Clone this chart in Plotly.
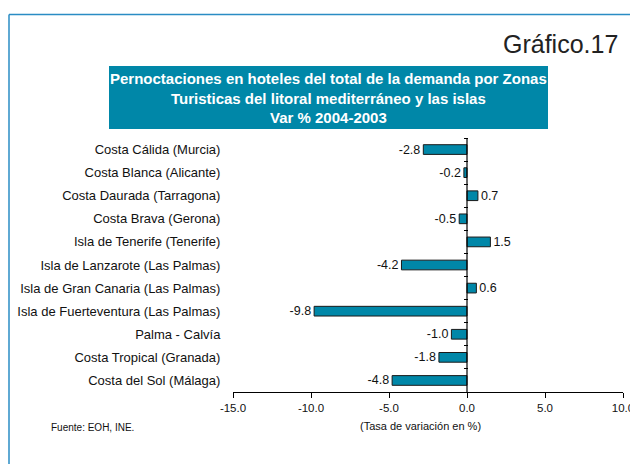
import plotly.graph_objects as go

categories = [
    "Costa Cálida (Murcia)",
    "Costa Blanca (Alicante)",
    "Costa Daurada (Tarragona)",
    "Costa Brava (Gerona)",
    "Isla de Tenerife (Tenerife)",
    "Isla de Lanzarote (Las Palmas)",
    "Isla de Gran Canaria (Las Palmas)",
    "Isla de Fuerteventura (Las Palmas)",
    "Palma - Calvía",
    "Costa Tropical (Granada)",
    "Costa del Sol (Málaga)",
]
values = [-2.8, -0.2, 0.7, -0.5, 1.5, -4.2, 0.6, -9.8, -1.0, -1.8, -4.8]
x_ticks = [-15, -10, -5, 0, 5, 10]
x_ticklabels = ["-15.0", "-10.0", "-5.0", "0.0", "5.0", "10.0"]

FONT = "Arial, Liberation Sans, Helvetica, sans-serif"
idx = list(range(len(categories)))

fig = go.Figure()
fig.add_trace(go.Bar(
    y=idx, x=values, orientation="h", width=0.42,
    marker=dict(color="#0087A8", line=dict(color="#1a1a1a", width=1)),
    text=[f"{v:.1f}" for v in values], textposition="outside",
    constraintext="none",
    textfont=dict(family=FONT, size=12.5, color="#111"),
    cliponaxis=False, showlegend=False,
))
# zero line with boundary ticks
fig.add_trace(go.Scatter(
    x=[0, 0], y=[-0.5, len(categories) - 0.5], yaxis="y2",
    mode="lines", line=dict(color="#000", width=1.2),
    showlegend=False, hoverinfo="skip",
))

W, H = 630, 464
L, R, T, B = 233, 7, 138, 72
pw, ph = W - L - R, H - T - B

def px(x):
    return (x - L) / pw

def py(y):
    return (H - B - y) / ph

fig.update_layout(
    width=W, height=H,
    margin=dict(l=L, r=R, t=T, b=B, autoexpand=False),
    paper_bgcolor="white", plot_bgcolor="white",
    font=dict(family=FONT, size=12, color="#111"),
    xaxis=dict(
        range=[-15, 10], tickvals=x_ticks, ticktext=x_ticklabels,
        showgrid=False, zeroline=False, showline=True, linecolor="#000", linewidth=1,
        ticks="outside", ticklen=5, tickcolor="#000",
        ticklabeloverflow="allow", automargin=False,
        tickfont=dict(family=FONT, size=11.5, color="#111"),
    ),
    yaxis=dict(
        range=[len(categories) - 0.5, -0.5], tickvals=idx, ticktext=categories,
        showgrid=False, zeroline=False, showline=False, automargin=False,
        ticks="outside", ticklen=9, tickcolor="rgba(0,0,0,0)",
        tickfont=dict(family=FONT, size=13, color="#111"),
    ),
    yaxis2=dict(
        overlaying="y", anchor="free", position=px(467.5),
        range=[len(categories) - 0.5, -0.5], automargin=False,
        tickvals=[i - 0.5 for i in range(len(categories) + 1)],
        showticklabels=False, ticks="outside", ticklen=4, tickcolor="#000",
        showgrid=False, zeroline=False, showline=False,
    ),
    bargap=0.58,
)

shapes = [
    # outer frame
    dict(type="line", xref="paper", yref="paper", x0=px(9), x1=px(640), y0=py(14.5), y1=py(14.5),
         line=dict(color="#2a8cc4", width=1.5)),
    dict(type="line", xref="paper", yref="paper", x0=px(9), x1=px(9), y0=py(14.5), y1=py(480),
         line=dict(color="#2a8cc4", width=1.5)),
    # title box
    dict(type="rect", xref="paper", yref="paper", x0=px(109), x1=px(548), y0=py(66), y1=py(129),
         fillcolor="#0087A8", line=dict(width=0), layer="below"),
]
fig.update_layout(shapes=shapes)

ann = [
    dict(x=px(328.5), y=py(98), xref="paper", yref="paper", showarrow=False,
         text="Pernoctaciones en hoteles del total de la demanda por Zonas<br>"
              "Turisticas del litoral mediterráneo y las islas<br>Var % 2004-2003",
         font=dict(family=FONT, size=15, color="white", weight="bold"),
         align="center", xanchor="center", yanchor="middle"),
    dict(x=px(620), y=py(44), xref="paper", yref="paper", showarrow=False,
         text="Gráfico.17", font=dict(family=FONT, size=25, color="#222"),
         xanchor="right", yanchor="middle"),
    dict(x=px(420), y=py(426), xref="paper", yref="paper", showarrow=False,
         text="(Tasa de variación en %)", font=dict(family=FONT, size=11, color="#111"),
         xanchor="center", yanchor="middle"),
    dict(x=px(49), y=py(427), xref="paper", yref="paper", showarrow=False,
         text="Fuente: EOH, INE.", font=dict(family=FONT, size=10, color="#111"),
         xanchor="left", yanchor="middle"),
]
fig.update_layout(annotations=ann)

fig.write_html(
    "out.html",
    config={"displayModeBar": False},
    post_script="document.body.style.margin='0';document.body.style.overflow='hidden';",
)
